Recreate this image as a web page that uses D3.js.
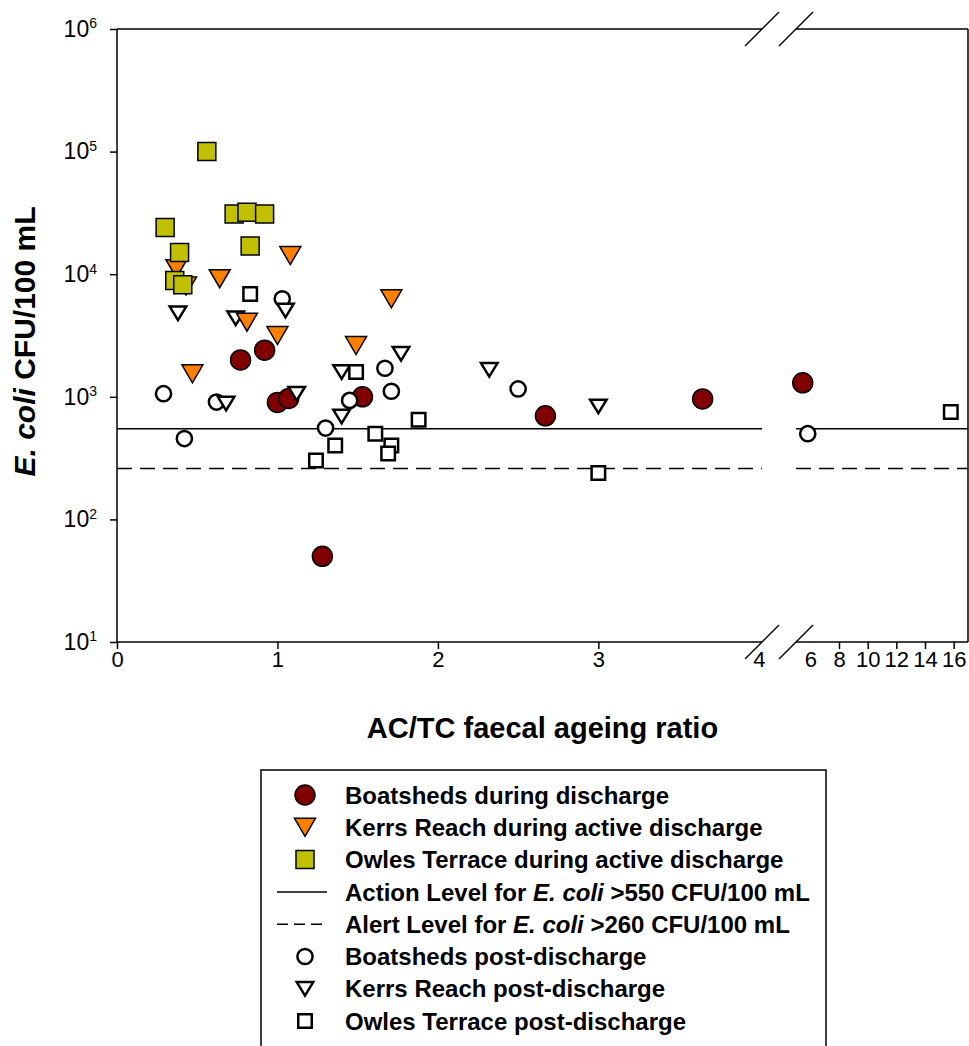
<!DOCTYPE html>
<html>
<head>
<meta charset="utf-8">
<script src="https://cdn.jsdelivr.net/npm/d3@7"></script>
<style>
  body { margin: 0; background: #fff; }
  svg { font-family: Arial, "Liberation Sans", sans-serif; }
</style>
</head>
<body>
<div id="chart"></div>
<script>
// values: x = AC/TC ratio, y = E. coli CFU/100 mL
var boatDuringX = [0.77, 0.92, 1.00, 1.07, 1.28, 1.53, 2.67, 3.65, 5.47];
var boatDuringY = [2000, 2400, 900, 970, 50, 1000, 700, 960, 1300];

var kerrsDuringX = [0.37, 0.43, 0.64, 1.08, 0.47, 0.81, 1.00, 1.49, 1.71];
var kerrsDuringY = [11100, 8000, 9200, 14200, 1540, 4060, 3160, 2620, 6300];

var owlesDuringX = [0.56, 0.30, 0.73, 0.81, 0.92, 0.83, 0.39, 0.36, 0.41];
var owlesDuringY = [100000, 24000, 31000, 32000, 31000, 17000, 15000, 8900, 8200];

var boatPostX = [0.29, 0.42, 0.62, 1.03, 1.30, 1.45, 1.67, 1.71, 2.50, 5.82];
var boatPostY = [1060, 456, 906, 6300, 556, 935, 1710, 1110, 1160, 500];

var kerrsPostX = [0.38, 0.74, 1.05, 0.68, 1.12, 1.40, 1.40, 1.77, 2.32, 3.00];
var kerrsPostY = [4800, 4370, 5050, 880, 1060, 1590, 690, 2240, 1660, 835];

var owlesPostX = [0.83, 1.49, 1.88, 1.36, 1.24, 1.61, 1.71, 1.69, 3.00, 15.8];
var owlesPostY = [6900, 1590, 650, 400, 303, 500, 400, 344, 239, 750];

var actionLevel = 550, alertLevel = 260;

var yTicks = [1, 2, 3, 4, 5, 6];          // exponents
var xTicksLeft = [0, 1, 2, 3, 4];
var xTicksRight = [6, 8, 10, 12, 14, 16];

var legendLabels = [
  "Boatsheds during discharge",
  "Kerrs Reach during active discharge",
  "Owles Terrace during active discharge",
  "Action Level for |E. coli| >550 CFU/100 mL",
  "Alert Level for |E. coli| >260 CFU/100 mL",
  "Boatsheds post-discharge",
  "Kerrs Reach post-discharge",
  "Owles Terrace post-discharge"
];

var W = 969, H = 1046;
var pL = 117, pR = 968, pT = 29, pB = 642;
var breakA = 762, breakB = 796;

var svg = d3.select("#chart").append("svg")
    .attr("width", W).attr("height", H);

var x1 = d3.scaleLinear().domain([0, 4.02]).range([pL, breakA]);
var x2 = d3.scaleLinear().domain([5, 17]).range([breakB, pR]);
var y = d3.scaleLog().domain([10, 1e6]).range([pB, pT]);

function xPos(v) { return v <= 4.02 ? x1(v) : x2(v); }

var darkRed = "#800000", orange = "#ff8000", olive = "#c0c000";

// reference lines, broken at the axis break
[[actionLevel, null], [alertLevel, "15,8"]].forEach(function(l) {
  [[pL, breakA], [breakB, pR]].forEach(function(s) {
    svg.append("line")
      .attr("x1", s[0]).attr("x2", s[1])
      .attr("y1", y(l[0])).attr("y2", y(l[0]))
      .attr("stroke", "#000").attr("stroke-width", 1.5)
      .attr("stroke-dasharray", l[1]);
  });
});

// y axis
var yAxis = svg.append("g")
    .attr("transform", "translate(" + pL + ",0)")
    .call(d3.axisLeft(y).tickValues(yTicks.map(function(e) { return Math.pow(10, e); }))
      .tickSize(7).tickPadding(13).tickFormat(""));
yAxis.select(".domain").remove();
yAxis.selectAll(".tick line").attr("stroke-width", 1.5);
yAxis.selectAll(".tick text").each(function(d) {
  var t = d3.select(this).attr("font-size", 23).attr("fill", "#000")
    .attr("font-family", "Arial, 'Liberation Sans', sans-serif");
  t.append("tspan").text("10");
  t.append("tspan").attr("font-size", 14).attr("dy", "-0.6em").text(Math.round(Math.log10(d)));
});

// x axes (two segments)
var xa1 = svg.append("g").attr("transform", "translate(0," + pB + ")")
    .call(d3.axisBottom(x1).tickValues(xTicksLeft).tickSize(7).tickPadding(2).tickFormat(d3.format("d")));
var xa2 = svg.append("g").attr("transform", "translate(0," + pB + ")")
    .call(d3.axisBottom(x2).tickValues(xTicksRight).tickSize(7).tickPadding(2).tickFormat(d3.format("d")));
[xa1, xa2].forEach(function(g) {
  g.select(".domain").remove();
  g.selectAll(".tick line").attr("stroke-width", 1.5);
  g.selectAll(".tick text").attr("font-size", 22).attr("fill", "#000")
    .attr("font-family", "Arial, 'Liberation Sans', sans-serif");
});
// no tick marks next to the break
xa1.selectAll(".tick").filter(function(d) { return d === 4; }).select("line").remove();
xa2.selectAll(".tick").filter(function(d) { return d === 6; }).select("line").remove();

// frame with break
var frame = svg.append("g").attr("stroke", "#000").attr("stroke-width", 1.5).attr("fill", "none");
frame.append("line").attr("x1", pL).attr("x2", pL).attr("y1", pT).attr("y2", pB);
frame.append("line").attr("x1", pR).attr("x2", pR).attr("y1", pT).attr("y2", pB);
[pT, pB].forEach(function(yy) {
  frame.append("line").attr("x1", pL).attr("x2", breakA).attr("y1", yy).attr("y2", yy);
  frame.append("line").attr("x1", breakB).attr("x2", pR).attr("y1", yy).attr("y2", yy);
  [breakA, breakB].forEach(function(xx) {
    frame.append("line").attr("x1", xx - 17).attr("y1", yy + 17)
      .attr("x2", xx + 17).attr("y2", yy - 17);
  });
});

// marker shapes
function triDown(w, h) {
  return "M" + (-w / 2) + "," + (-h / 2) + "L" + (w / 2) + "," + (-h / 2) + "L0," + (h / 2) + "Z";
}
var shapes = {
  bigCircle: d3.symbol().type(d3.symbolCircle).size(Math.PI * 10 * 10)(),
  bigSquare: d3.symbol().type(d3.symbolSquare).size(18 * 18)(),
  bigTri: triDown(21, 18),
  smallCircle: d3.symbol().type(d3.symbolCircle).size(Math.PI * 7.6 * 7.6)(),
  smallSquare: d3.symbol().type(d3.symbolSquare).size(13.5 * 13.5)(),
  smallTri: triDown(16.5, 13.5)
};

var series = [
  {xs: boatDuringX, ys: boatDuringY, shape: "bigCircle", fill: darkRed, sw: 1.5},
  {xs: boatPostX, ys: boatPostY, shape: "smallCircle", fill: "#fff", sw: 2.5},
  {xs: kerrsPostX, ys: kerrsPostY, shape: "smallTri", fill: "#fff", sw: 2.5},
  {xs: owlesPostX, ys: owlesPostY, shape: "smallSquare", fill: "#fff", sw: 2.5},
  {xs: kerrsDuringX, ys: kerrsDuringY, shape: "bigTri", fill: orange, sw: 1.5},
  {xs: owlesDuringX, ys: owlesDuringY, shape: "bigSquare", fill: olive, sw: 1.5}
];

series.forEach(function(s) {
  svg.append("g").selectAll("path")
    .data(d3.range(s.xs.length))
    .enter().append("path")
    .attr("d", shapes[s.shape])
    .attr("transform", function(i) { return "translate(" + xPos(s.xs[i]) + "," + y(s.ys[i]) + ")"; })
    .attr("fill", s.fill)
    .attr("stroke", "#000")
    .attr("stroke-width", s.sw);
});

// axis titles
svg.append("text")
  .attr("x", (pL + pR) / 2).attr("y", 738)
  .attr("text-anchor", "middle")
  .attr("font-size", 29).attr("font-weight", "bold")
  .text("AC/TC faecal ageing ratio");

var yt = svg.append("text")
  .attr("transform", "translate(35," + ((pT + pB) / 2 + 6) + ") rotate(-90)")
  .attr("text-anchor", "middle")
  .attr("font-size", 30).attr("font-weight", "bold");
yt.append("tspan").attr("font-style", "italic").text("E. coli");
yt.append("tspan").text(" CFU/100 mL");

// legend
var leg = svg.append("g");
leg.append("rect")
  .attr("x", 261).attr("y", 770).attr("width", 565).attr("height", 300)
  .attr("fill", "#fff").attr("stroke", "#000").attr("stroke-width", 1.5);

var legSymbols = [
  {shape: "bigCircle", fill: darkRed, sw: 1.5},
  {shape: "bigTri", fill: orange, sw: 1.5},
  {shape: "bigSquare", fill: olive, sw: 1.5},
  {line: null},
  {line: "11,6"},
  {shape: "smallCircle", fill: "#fff", sw: 2.5},
  {shape: "smallTri", fill: "#fff", sw: 2.5},
  {shape: "smallSquare", fill: "#fff", sw: 2.5}
];

legendLabels.forEach(function(lab, i) {
  var ly = 795 + i * 32.3;
  var sym = legSymbols[i];
  if (sym.shape) {
    leg.append("path").attr("d", shapes[sym.shape])
      .attr("transform", "translate(305," + ly + ")")
      .attr("fill", sym.fill).attr("stroke", "#000").attr("stroke-width", sym.sw);
  } else {
    leg.append("line").attr("x1", 277).attr("x2", 327).attr("y1", ly).attr("y2", ly)
      .attr("stroke", "#000").attr("stroke-width", 1.5).attr("stroke-dasharray", sym.line);
  }
  var t = leg.append("text").attr("x", 345).attr("y", ly).attr("dy", "0.36em")
    .attr("font-size", 24).attr("font-weight", "bold");
  lab.split("|").forEach(function(part, k) {
    t.append("tspan").attr("font-style", k === 1 ? "italic" : null).text(part);
  });
});
</script>
</body>
</html>
